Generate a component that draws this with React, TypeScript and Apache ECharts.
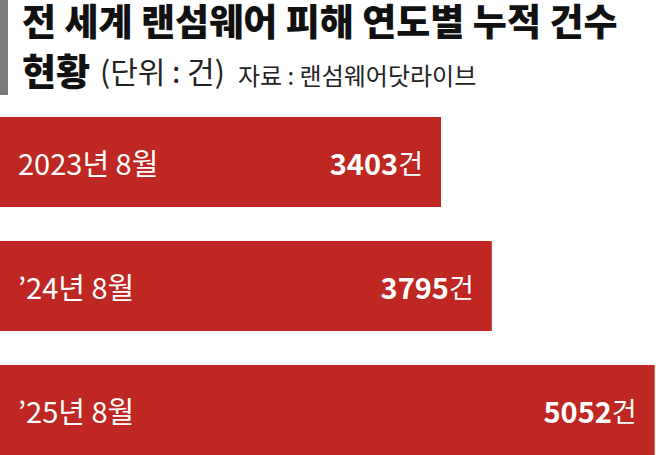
import { useEffect, useRef } from 'react';
import * as echarts from 'echarts';

const categories = ['2023년 8월', '’24년 8월', '’25년 8월'];
const counts = [3403, 3795, 5052];
const unit = '건';
const titleLine1 = '전 세계 랜섬웨어 피해 연도별 누적 건수';
const titleLine2 = '현황';
const unitNote = '(단위 : 건)';
const sourceNote = '자료 : 랜섬웨어닷라이브';

const FONT = "'Noto Sans CJK KR', 'Noto Sans', sans-serif";
const RED = '#bf2722';

const App = () => {
    const chartRef = useRef<HTMLDivElement | null>(null);

    useEffect(() => {
        // 페이지 여백 제거, 차트는 창 아래로 조금 넘친다
        document.body.style.margin = '0';
        document.body.style.overflow = 'hidden';
        if (!chartRef.current) return;
        const chart = echarts.init(chartRef.current, null, { renderer: 'svg' });

        chart.setOption({
            animation: false,
            textStyle: { fontFamily: FONT },
            grid: { left: 0, right: 0, top: 100, height: 372, containLabel: false },
            xAxis: { type: 'value', min: 0, max: 5062, show: false },
            yAxis: {
                type: 'category',
                inverse: true,
                data: categories,
                z: 10,
                axisLine: { show: false },
                axisTick: { show: false },
                splitLine: { show: false },
                axisLabel: {
                    inside: true,
                    margin: 18,
                    color: '#fff',
                    fontSize: 29,
                    fontFamily: FONT,
                },
            },
            series: [
                {
                    type: 'bar',
                    data: counts,
                    barWidth: 90,
                    itemStyle: { color: RED },
                    label: {
                        show: true,
                        position: 'insideRight',
                        distance: 18,
                        formatter: (p: any) => `{num|${p.value}}{unit|${unit}}`,
                        rich: {
                            num: { color: '#fff', fontSize: 29, fontWeight: 'bold', fontFamily: FONT },
                            unit: { color: '#fff', fontSize: 27, fontFamily: FONT },
                        },
                    },
                },
            ],
            graphic: [
                { type: 'rect', shape: { x: 0, y: 0, width: 8, height: 95 }, style: { fill: '#7b7b7b' } },
                {
                    type: 'text', x: 22, y: 1,
                    style: { text: titleLine1, font: `900 37px ${FONT}`, fill: '#111', textVerticalAlign: 'top' },
                },
                {
                    type: 'text', x: 22, y: 51,
                    style: { text: titleLine2, font: `900 37px ${FONT}`, fill: '#111', textVerticalAlign: 'top' },
                },
                {
                    type: 'text', x: 100, y: 55,
                    style: { text: unitNote, font: `400 30px ${FONT}`, fill: '#222', textVerticalAlign: 'top' },
                },
                {
                    type: 'text', x: 238, y: 62,
                    style: { text: sourceNote, font: `400 24px ${FONT}`, fill: '#222', textVerticalAlign: 'top' },
                },
            ],
        });

        return () => {
            chart.dispose();
        };
    }, []);

    return <div ref={chartRef} style={{ width: 656, height: 472 }} />;
};

export default App;
